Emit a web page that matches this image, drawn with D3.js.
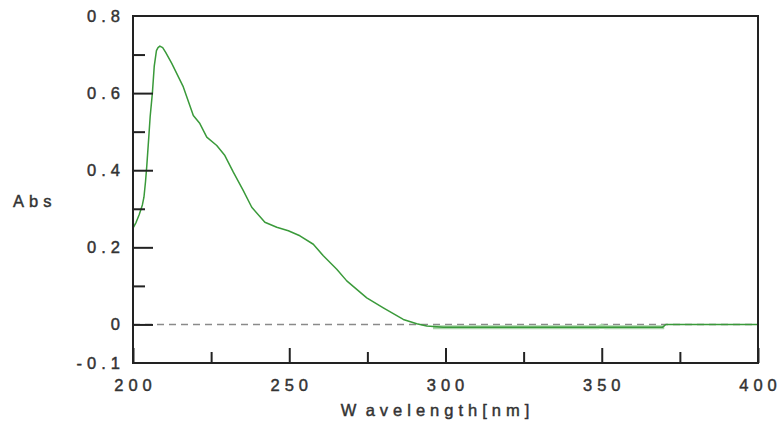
<!DOCTYPE html>
<html>
<head>
<meta charset="utf-8">
<script src="https://cdn.jsdelivr.net/npm/d3@7"></script>
<style>
  body { margin: 0; background: #fff; }
  text { font-family: "Liberation Sans", Arial, sans-serif; fill: #333; stroke: #333; stroke-width: 0.45px; }
</style>
</head>
<body>
<div id="wrapper"></div>
<script>
// Spectrum values
const wavelength = [200, 201, 202, 203, 203.5, 204, 204.4, 205, 205.5, 206.2, 206.8, 207.5, 208, 208.6, 209.5, 210.5,
  212.4, 216.1, 219.3, 221.4, 223.6, 226.8, 229.4, 232.1, 235.3, 238, 242.2, 246, 249.7, 253.4, 257.7, 260.9,
  265.2, 268.4, 274.8, 280.1, 286.5, 290.8, 294, 299.3, 330, 350, 369.5, 370.5, 400];
const absorbance = [0.25, 0.265, 0.285, 0.31, 0.33, 0.37, 0.41, 0.48, 0.54, 0.6, 0.67, 0.71, 0.718, 0.722, 0.718, 0.705,
  0.677, 0.616, 0.542, 0.521, 0.486, 0.464, 0.438, 0.395, 0.347, 0.304, 0.265, 0.252, 0.243, 0.230, 0.208, 0.178,
  0.143, 0.113, 0.069, 0.043, 0.013, 0.002, -0.004, -0.007, -0.007, -0.007, -0.007, 0, 0];

// noisy baseline band (light green) below zero
const bandWl = [296, 349, 350, 351, 370];
const bandAbs = [-0.007, -0.007, -0.004, -0.007, -0.007];

// Ticks
const xMajor = [200, 250, 300, 350, 400];
const xMinor = [225, 275, 325, 375];
const yMajor = [0, 0.2, 0.4, 0.6];
const yMinor = [0.1, 0.3, 0.5, 0.7];
const yLabels = ["-0.1", "0", "0.2", "0.4", "0.6", "0.8"];

const W = 781, H = 432;
const m = {left: 133, top: 16, right: 23, bottom: 69};
const fs = 16.5, ls = 5;

const svg = d3.select("#wrapper").append("svg")
  .attr("width", W)
  .attr("height", H);

const x = d3.scaleLinear().domain([200, 400]).range([m.left, W - m.right]);
const y = d3.scaleLinear().domain([-0.1, 0.8]).range([H - m.bottom, m.top]);

// zero line
svg.append("line")
  .attr("x1", x(200)).attr("x2", x(400))
  .attr("y1", y(0)).attr("y2", y(0))
  .attr("stroke", "#8a8a8a")
  .attr("stroke-width", 1.5)
  .attr("stroke-dasharray", "7,5");

const line = d3.line().x(d => x(d[0])).y(d => y(d[1]));

svg.append("path")
  .datum(bandWl.map((w, i) => [w, bandAbs[i]]))
  .attr("d", line)
  .attr("fill", "none")
  .attr("stroke", "#a9d4a9")
  .attr("stroke-width", 4);

svg.append("path")
  .datum(wavelength.map((w, i) => [w, absorbance[i]]))
  .attr("d", line)
  .attr("fill", "none")
  .attr("stroke", "#3a9a3a")
  .attr("stroke-width", 1.5)
  .attr("stroke-linejoin", "round");

// ticks (inward)
function tickStyle(g) {
  g.select(".domain").remove();
  g.selectAll(".tick line").attr("stroke", "#222").attr("stroke-width", 2);
  g.selectAll(".tick text").remove();
}
svg.append("g").attr("transform", `translate(${m.left},0)`)
  .call(d3.axisLeft(y).tickValues(yMajor).tickSize(-20)).call(tickStyle);
svg.append("g").attr("transform", `translate(${m.left},0)`)
  .call(d3.axisLeft(y).tickValues(yMinor).tickSize(-12)).call(tickStyle);
svg.append("g").attr("transform", `translate(0,${H - m.bottom})`)
  .call(d3.axisBottom(x).tickValues(xMajor).tickSize(-15)).call(tickStyle);
svg.append("g").attr("transform", `translate(0,${H - m.bottom})`)
  .call(d3.axisBottom(x).tickValues(xMinor).tickSize(-11)).call(tickStyle);

// frame
svg.append("rect")
  .attr("x", m.left).attr("y", m.top)
  .attr("width", x(400) - x(200)).attr("height", y(-0.1) - y(0.8))
  .attr("fill", "none")
  .attr("stroke", "#222")
  .attr("stroke-width", 2);

// labels
svg.selectAll(".ylab").data(yLabels).join("text")
  .attr("class", "ylab")
  .attr("x", 120 + ls)
  .attr("y", d => y(+d) + 6)
  .attr("text-anchor", "end")
  .attr("font-size", fs)
  .attr("letter-spacing", ls)
  .text(d => d);

svg.selectAll(".xlab").data(xMajor).join("text")
  .attr("class", "xlab")
  .attr("x", d => Math.min(x(d), W - 22) + ls / 2)
  .attr("y", 391)
  .attr("text-anchor", "middle")
  .attr("font-size", fs)
  .attr("letter-spacing", ls)
  .text(d => d);

svg.append("text")
  .attr("x", 13)
  .attr("y", 207)
  .attr("font-size", fs)
  .attr("letter-spacing", 5)
  .text("Abs");

const xt = svg.append("text")
  .attr("x", 435 + ls / 2)
  .attr("y", 416)
  .attr("text-anchor", "middle")
  .attr("font-size", fs)
  .attr("letter-spacing", ls);
xt.append("tspan").text("W");
xt.append("tspan").attr("dx", 5).text("avelength[nm]");
</script>
</body>
</html>
